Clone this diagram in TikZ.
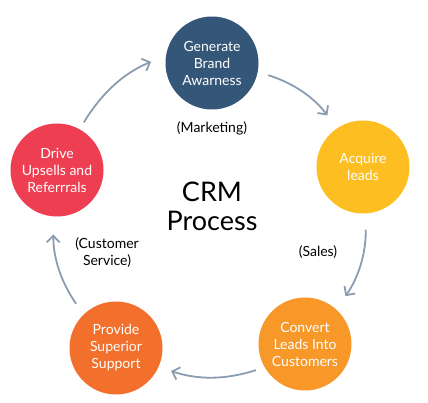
\documentclass[tikz,border=0pt]{standalone}
\usepackage{fontspec}
\setmainfont{Lato}
\usetikzlibrary{arrows.meta}
\definecolor{brandblue}{RGB}{52,86,120}
\definecolor{leadyellow}{RGB}{252,190,32}
\definecolor{convorange}{RGB}{247,152,40}
\definecolor{supportorange}{RGB}{242,112,44}
\definecolor{upsellred}{RGB}{238,62,82}
\definecolor{cyclegray}{RGB}{140,156,176}

\begin{document}
\begin{tikzpicture}[
    x=1pt, y=1pt,
    stage/.style={circle, minimum size=93pt, inner sep=0pt, text=white, align=center, font=\fontsize{14}{17}\selectfont},
    note/.style={align=center, font=\fontsize{14}{17}\selectfont},
    arrow/.style={line width=1.8pt, cyclegray, -{Straight Barb[length=6.5pt,width=13pt]}}
]
\useasboundingbox (0,0) rectangle (428,403);

% Define nodes for the cycle stages
\node[stage, fill=brandblue] (generate) at (212,340) {Generate\\Brand\\Awarness};
\node[stage, fill=leadyellow] (acquire) at (363,236) {Acquire\\leads};
\node[stage, fill=convorange] (convert) at (305,59) {Convert\\Leads Into\\Customers};
\node[stage, fill=supportorange] (provide) at (116,55) {Provide\\Superior\\Support};
\node[stage, fill=upsellred] (drive) at (57,233) {Drive\\Upsells and\\Referrrals};

% Define nodes for the labels
\node[align=center, font=\fontsize{27}{29}\selectfont] (title) at (212,197) {CRM\\Process};
\node[note] (marketing) at (212,275) {(Marketing)};
\node[note] (sales) at (318,151) {(Sales)};
\node[note] (service) at (107,150) {(Customer\\Service)};

% Connect the stages with arrows
\draw[arrow, shorten <=8pt, shorten >=16pt] (drive.61) to[bend left=18] (generate.171);
\draw[arrow, shorten <=11pt, shorten >=16pt] (generate.-11) to[bend left=18] (acquire.124);
\draw[arrow, shorten <=16pt, shorten >=16pt] (acquire.-87) to[bend left=18] (convert.48);
\draw[arrow, shorten <=9pt, shorten >=13pt] (convert.210) to[bend left=18] (provide.-24);
\draw[arrow, shorten <=13pt, shorten >=18pt] (provide.134) to[bend left=18] (drive.-94);

\end{tikzpicture}
\end{document}
